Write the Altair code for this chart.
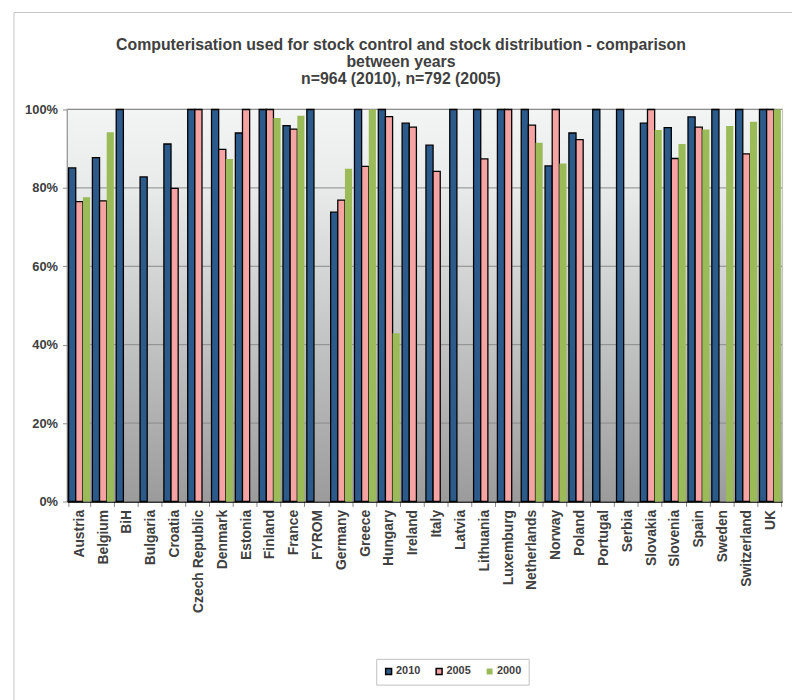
import altair as alt
import pandas as pd

countries = ["Austria", "Belgium", "BiH", "Bulgaria", "Croatia", "Czech Republic", "Denmark",
             "Estonia", "Finland", "France", "FYROM", "Germany", "Greece", "Hungary", "Ireland",
             "Italy", "Latvia", "Lithuania", "Luxemburg", "Netherlands", "Norway", "Poland",
             "Portugal", "Serbia", "Slovakia", "Slovenia", "Spain", "Sweden", "Switzerland", "UK"]
years = ["2010", "2005", "2000"]
v2010 = [85.1, 87.7, 100, 82.8, 91.2, 100, 100, 94.0, 100, 95.9, 100, 73.8, 100, 100, 96.5,
         90.9, 100, 100, 100, 100, 85.6, 94.0, 100, 100, 96.5, 95.4, 98.1, 100, 100, 100]
v2005 = [76.5, 76.7, None, None, 79.9, 100, 89.8, 100, 100, 95.0, None, 76.9, 85.5, 98.2, 95.5,
         84.2, None, 87.4, 100, 96.0, 100, 92.3, None, None, 100, 87.5, 95.5, None, 88.7, 100]
v2000 = [77.6, 94.2, None, None, None, None, 87.4, None, 97.8, 98.4, None, 84.9, 100, 42.9, None,
         None, None, None, None, 91.5, 86.2, None, None, None, 94.8, 91.2, 94.9, 95.8, 96.9, 100]
colors = ["#2c5b8b", "#f6a3a3", "#9bbb59"]
y_ticks = [0, 0.2, 0.4, 0.6, 0.8, 1.0]

rows = []
for yr, vals in zip(years, [v2010, v2005, v2000]):
    for c, v in zip(countries, vals):
        if v is not None:
            rows.append({"country": c, "year": yr, "value": v / 100})
df = pd.DataFrame(rows)

W, H = 722, 396
FONT = "Liberation Sans"
TXT = "#404040"

y_axis = alt.Axis(values=y_ticks, format=".0%", title=None)

bg = alt.Chart(pd.DataFrame({"a": [0]})).mark_rect(
    fill=alt.LinearGradient(
        gradient="linear",
        stops=[alt.GradientStop(color="#f3f4f4", offset=0),
               alt.GradientStop(color="#e9eaea", offset=0.2),
               alt.GradientStop(color="#9b9b9b", offset=1)],
        x1=0, x2=0, y1=0, y2=1)
).encode(x=alt.value(0), x2=alt.value(W), y=alt.value(0), y2=alt.value(H))

frame = alt.Chart(pd.DataFrame({"a": [0]})).mark_rect(
    fillOpacity=0, stroke="#c4c4c4", strokeWidth=1
).encode(x=alt.value(-54), x2=alt.value(800), y=alt.value(-98), y2=alt.value(700))

grid = alt.Chart(pd.DataFrame({"value": y_ticks[1:]})).mark_rule(
    color="#8a8a8a", strokeWidth=1
).encode(
    y=alt.Y("value:Q", scale=alt.Scale(domain=[0, 1]), axis=y_axis),
    x=alt.value(0), x2=alt.value(W)
)

bars = alt.Chart(df).mark_bar(strokeWidth=1.3).encode(
    x=alt.X("country:N", sort=countries, title=None,
            scale=alt.Scale(paddingInner=0.1, paddingOuter=0.05)),
    xOffset=alt.XOffset("year:N", sort=years,
                        scale=alt.Scale(domain=years, paddingInner=0, paddingOuter=0)),
    y=alt.Y("value:Q", scale=alt.Scale(domain=[0, 1]), axis=y_axis),
    color=alt.Color("year:N", scale=alt.Scale(domain=years, range=colors),
                    legend=alt.Legend(title=None)),
    stroke=alt.Stroke("year:N", scale=alt.Scale(domain=years, range=["#000000", "#000000", "transparent"]),
                      legend=alt.Legend(title=None)),
)

chart = alt.layer(frame, bg, grid, bars).properties(
    width=W, height=H,
    autosize=alt.AutoSizeParams(type="none"),
    padding={"left": 60, "top": 99, "right": 10, "bottom": 197},
    background="white",
    title=alt.TitleParams(
        text=["Computerisation used for stock control and stock distribution  - comparison",
              "between years", "n=964 (2010), n=792 (2005)"],
        font=FONT, fontSize=16, fontWeight="bold", color=TXT, anchor="middle",
        frame="group", dx=-24, offset=-76, lineHeight=17.5),
).configure_view(
    stroke="#c0c0c0", strokeWidth=2
).configure_axisY(
    grid=False, domainColor="#000000", domainWidth=1.5, tickColor="#8a8a8a", tickSize=5,
    labelFont=FONT, labelFontSize=13, labelFontWeight="bold", labelColor=TXT, labelPadding=5
).configure_axisX(
    grid=False, domainColor="#000000", domainWidth=1.5, tickColor="#8a8a8a", tickSize=5,
    tickBand="extent", labelAngle=270, labelFont=FONT, labelFontSize=14,
    labelFontWeight="bold", labelColor=TXT, labelPadding=3
).configure_legend(
    orient="none", legendX=312, legendY=555, direction="horizontal",
    padding=7, strokeColor="#bfbfbf", fillColor="white",
    symbolType="square", symbolSize=36, symbolStrokeWidth=1.5,
    labelFont=FONT, labelFontSize=11, labelFontWeight="bold", labelColor=TXT,
    columnPadding=12, labelOffset=2
)

chart.save("out.html", embed_options={"renderer": "svg", "actions": False})
